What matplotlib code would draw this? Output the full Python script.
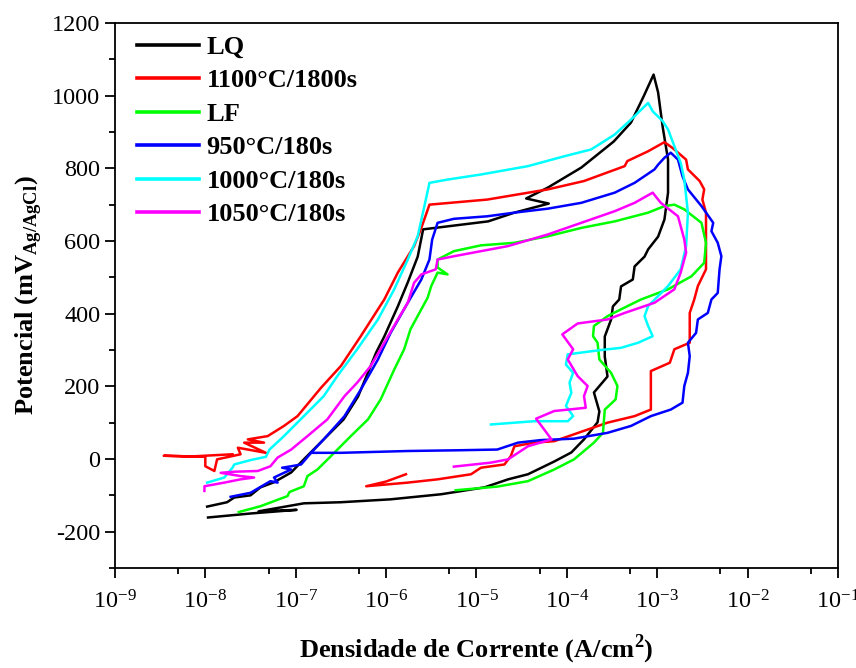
import matplotlib
matplotlib.use('Agg')
import matplotlib.pyplot as plt
import numpy as np
from matplotlib.ticker import LogLocator, LogFormatterMathtext, MultipleLocator, NullFormatter

plt.rcParams['font.family'] = ['Liberation Serif', 'DejaVu Serif']
plt.rcParams['mathtext.fontset'] = 'custom'
plt.rcParams['mathtext.rm'] = 'Liberation Serif'
plt.rcParams['mathtext.bf'] = 'Liberation Serif:bold'
plt.rcParams['axes.unicode_minus'] = False

# log10 da densidade de corrente (A/cm2) e potencial (mV Ag/AgCl)
lq_logi = [-7.98, -7.76, -7.68, -7.50, -7.39, -7.24, -7.05, -6.91, -6.69, -6.47, -6.31, -6.20, -6.11, -6.02,
           -5.87, -5.76, -5.65, -5.59, -4.87, -4.58, -4.20, -4.45, -4.21, -3.84, -3.48, -3.29, -3.15, -3.04,
           -2.99, -2.94, -2.88, -2.88, -2.92, -2.99, -3.10, -3.14, -3.25, -3.27, -3.40, -3.42, -3.49, -3.51,
           -3.58, -3.58, -3.55, -3.70, -3.64, -3.66, -3.81, -3.95, -4.14, -4.43, -4.65, -4.91, -5.39, -5.95,
           -6.50, -6.91, -7.41, -6.99, -7.50, -7.97]
lq_e = [-131, -119, -106, -100, -78, -64, -37, -1, 54, 109, 172, 238, 293, 337,
        420, 486, 557, 632, 654, 678, 703, 717, 747, 802, 874, 926, 998, 1058,
        1009, 915, 824, 733, 659, 612, 577, 557, 530, 494, 475, 439, 420, 384,
        337, 282, 227, 183, 131, 101, 54, 18, -7, -42, -56, -78, -97, -111,
        -119, -122, -144, -140, -150, -161]

t1100_logi = [-7.70, -8.16, -8.46, -8.00, -8.00, -7.90, -7.87, -7.61, -7.64, -7.33, -7.57, -7.35, -7.53, -7.31,
              -7.13, -6.98, -6.72, -6.50, -6.28, -6.02, -5.87, -5.69, -5.61, -5.52, -4.88, -4.21, -3.81, -3.36,
              -3.33, -3.10, -2.92, -2.83, -2.68, -2.66, -2.53, -2.48, -2.50, -2.46, -2.46, -2.55, -2.59, -2.64,
              -2.64, -2.81, -2.86, -3.07, -3.07, -3.25, -3.55, -3.92, -4.14, -4.36, -4.58, -4.62, -4.69, -4.95,
              -5.06, -5.43, -5.76, -6.22, -6.00, -5.78]
t1100_e = [13, 7, 9, 6, -20, -33, -1, 13, 31, 17, 45, 45, 54, 63,
           91, 118, 196, 256, 338, 439, 513, 586, 636, 700, 714, 742, 765, 806,
           820, 847, 872, 856, 824, 797, 765, 742, 714, 678, 522, 476, 439, 402,
           320, 302, 265, 242, 136, 118, 100, 68, 49, 45, 35, 8, -15, -24,
           -42, -56, -65, -75, -62, -42]

lf_logi = [-7.63, -7.39, -7.09, -7.07, -6.91, -6.87, -6.76, -6.61, -6.39, -6.20, -6.06, -5.91, -5.80, -5.73,
           -5.61, -5.54, -5.50, -5.43, -5.32, -5.43, -5.43, -5.25, -4.95, -4.58, -4.21, -3.84, -3.47, -3.10,
           -2.92, -2.81, -2.70, -2.51, -2.46, -2.48, -2.62, -2.88, -3.18, -3.40, -3.55, -3.70, -3.71, -3.66,
           -3.64, -3.51, -3.44, -3.46, -3.58, -3.60, -3.70, -3.92, -4.14, -4.43, -4.77, -5.23]
lf_e = [-146, -130, -102, -91, -75, -47, -29, 8, 63, 109, 164, 246, 302, 357,
        412, 444, 476, 513, 508, 527, 549, 572, 588, 595, 613, 636, 654, 678,
        696, 700, 687, 650, 595, 540, 503, 467, 439, 412, 393, 366, 338, 320,
        274, 237, 201, 164, 136, 72, 45, -1, -29, -61, -76, -86]

t950_logi = [-7.72, -7.50, -7.28, -7.20, -7.24, -7.13, -7.05, -7.15, -7.05, -6.94, -6.83, -6.69, -6.46, -6.28,
             -6.09, -5.95, -5.76, -5.61, -5.52, -5.49, -5.43, -5.25, -4.88, -4.58, -4.21, -3.84, -3.47, -3.25,
             -3.03, -2.99, -2.92, -2.85, -2.77, -2.72, -2.66, -2.51, -2.38, -2.40, -2.33, -2.29, -2.31, -2.33,
             -2.40, -2.44, -2.55, -2.57, -2.66, -2.64, -2.66, -2.70, -2.72, -2.85, -3.07, -3.29, -3.55, -3.92,
             -4.29, -4.54, -4.77, -5.21, -5.76, -6.50, -6.83]
t950_e = [-104, -93, -61, -65, -51, -38, -29, -24, -20, -15, 17, 54, 118, 191,
          274, 347, 430, 494, 549, 604, 650, 661, 668, 678, 689, 705, 733, 760,
          797, 810, 829, 843, 824, 778, 742, 696, 650, 627, 595, 558, 522, 457,
          439, 402, 384, 347, 320, 283, 237, 201, 155, 136, 118, 91, 72, 56,
          52, 45, 26, 24, 22, 17, 17]

t1000_logi = [-7.98, -7.79, -7.70, -7.68, -7.50, -7.33, -7.29, -7.13, -6.91, -6.69, -6.54, -6.32, -6.09, -5.91,
              -5.76, -5.65, -5.56, -5.52, -5.32, -4.95, -4.43, -4.03, -3.73, -3.47, -3.29, -3.10, -3.05, -2.94,
              -2.88, -2.81, -2.74, -2.70, -2.66, -2.68, -2.74, -2.88, -3.10, -3.14, -3.10, -3.05, -3.21, -3.40,
              -3.62, -3.99, -4.01, -3.93, -3.97, -3.95, -4.01, -3.93, -3.99, -4.36, -4.84]
t1000_e = [-65, -51, -24, -15, -3, 6, 26, 63, 118, 173, 228, 302, 384, 467,
           549, 613, 714, 760, 769, 783, 806, 833, 852, 893, 934, 980, 957, 930,
           907, 861, 815, 769, 678, 586, 522, 476, 421, 393, 366, 338, 320, 306,
           300, 288, 260, 237, 210, 182, 146, 118, 104, 104, 95]

t1050_logi = [-8.01, -8.01, -7.79, -7.61, -7.46, -7.61, -7.83, -7.68, -7.42, -7.28, -7.20, -7.05, -6.87, -6.65,
              -6.46, -6.32, -6.17, -6.02, -5.87, -5.76, -5.69, -5.61, -5.45, -5.43, -5.25, -4.95, -4.65, -4.21,
              -3.84, -3.47, -3.25, -3.05, -2.96, -2.77, -2.70, -2.68, -2.74, -2.81, -3.03, -3.36, -3.55, -3.88,
              -4.05, -3.93, -3.99, -3.88, -3.77, -3.81, -3.79, -4.14, -4.34, -4.25, -4.17, -4.43, -4.65, -4.84,
              -5.25]
t1050_e = [-88, -75, -65, -56, -51, -47, -38, -35, -33, -20, 4, 26, 63, 109,
           173, 210, 256, 320, 384, 430, 485, 508, 522, 549, 558, 572, 586, 618,
           650, 682, 705, 733, 705, 668, 604, 568, 513, 467, 430, 402, 384, 373,
           343, 302, 274, 228, 201, 173, 141, 132, 111, 81, 54, 35, -1, -10,
           -21]

series = [
    ('LQ', lq_logi, lq_e, '#000000'),
    ('1100°C/1800s', t1100_logi, t1100_e, '#FF0000'),
    ('LF', lf_logi, lf_e, '#00FF00'),
    ('950°C/180s', t950_logi, t950_e, '#0000FF'),
    ('1000°C/180s', t1000_logi, t1000_e, '#00FFFF'),
    ('1050°C/180s', t1050_logi, t1050_e, '#FF00FF'),
]

fig = plt.figure(figsize=(8.56, 6.68), dpi=100)
ax = fig.add_axes([0.1343, 0.1497, 0.8446, 0.8159])

for label, logi, e, color in series:
    ax.plot(10 ** np.array(logi), e, color=color, lw=1.8, label=label)

ax.set_xscale('log')
ax.set_xlim(1e-9, 1e-1)
ax.set_ylim(-300, 1200)
ax.xaxis.set_major_locator(LogLocator(base=10, numticks=20))
ax.xaxis.set_major_formatter(LogFormatterMathtext())
ax.xaxis.set_minor_locator(LogLocator(base=10, subs=[5.0], numticks=20))
ax.xaxis.set_minor_formatter(NullFormatter())
ax.set_yticks(np.arange(-200, 1201, 200))
ax.yaxis.set_minor_locator(MultipleLocator(100))

ax.tick_params(which='both', direction='out', top=False, right=False, labelsize=17.5, width=1.3)
ax.tick_params(which='major', length=7)
ax.tick_params(which='minor', length=4)
ax.tick_params(axis='x', which='major', pad=9)
for s in ax.spines.values():
    s.set_linewidth(1.3)

ax.set_xlabel('Densidade de Corrente (A/cm$^{\\mathbf{2}}$)', fontsize=19, fontweight='bold', labelpad=14)
ax.set_ylabel('Potencial (mV$_{\\mathbf{Ag/AgCl}}$)', fontsize=19, fontweight='bold', labelpad=6)

leg = ax.legend(loc='upper left', bbox_to_anchor=(0.0235, 0.987), frameon=False,
                prop={'weight': 'bold', 'size': 19},
                handlelength=2.35, handletextpad=0.28, labelspacing=0.38,
                borderaxespad=0.0, borderpad=0.2)
for h in leg.get_lines():
    h.set_linewidth(2.6)

fig.savefig('out.png', dpi=100)
plt.close(fig)
